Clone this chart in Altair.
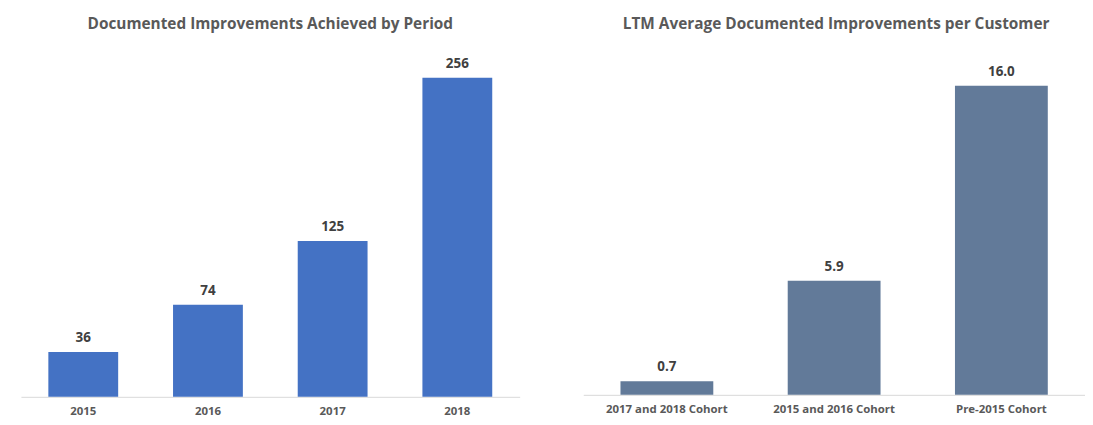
import altair as alt
import pandas as pd

periods = ["2015", "2016", "2017", "2018"]
improvements = [36, 74, 125, 256]

cohorts = ["2017 and 2018 Cohort", "2015 and 2016 Cohort", "Pre-2015 Cohort"]
avg_per_customer = [0.7, 5.9, 16.0]

left_df = pd.DataFrame({"period": periods, "value": improvements})
right_df = pd.DataFrame({"cohort": cohorts, "value": avg_per_customer})

FONT = "Open Sans"
TITLE_COLOR = "#595959"
LABEL_COLOR = "#404040"

def make_panel(df, cat, title, color, ymax, fmt, pad_inner, width, height, dx):
    base = alt.Chart(df).encode(
        x=alt.X(f"{cat}:N", sort=list(df[cat]), title=None,
                scale=alt.Scale(paddingInner=pad_inner, paddingOuter=pad_inner / 2),
                axis=alt.Axis(labelAngle=0, ticks=False, domainColor="#D9D9D9",
                              domainWidth=1, labelFont=FONT, labelFontSize=11.5,
                              labelFontWeight="bold", labelColor=TITLE_COLOR,
                              labelPadding=9, grid=False)),
        y=alt.Y("value:Q", title=None, axis=None,
                scale=alt.Scale(domain=[0, ymax], nice=False, zero=True)),
    )
    bars = base.mark_bar(color=color)
    labels = base.mark_text(dy=-7, baseline="bottom", font=FONT, fontSize=13.5,
                            fontWeight="bold", color=LABEL_COLOR).encode(
        text=alt.Text("value:Q", format=fmt))
    return (bars + labels).properties(
        width=width, height=height,
        title=alt.TitleParams(title, font=FONT, fontSize=15.5, fontWeight="bold",
                              color=TITLE_COLOR, anchor="middle", dx=dx, offset=17),
    )

left = make_panel(left_df, "period", "Documented Improvements Achieved by Period",
                  "#4472C4", 279.1, ".0f", 0.44, 502, 350, 0)
right = make_panel(right_df, "cohort", "LTM Average Documented Improvements per Customer",
                   "#627A99", 17.9, ".1f", 0.445, 505, 348, 2)

chart = alt.hconcat(left, right, spacing=64).properties(
    padding={"left": 13, "top": 7, "right": 0, "bottom": 5},
    background="white",
).configure_view(stroke=None)

chart.save("out.html", embed_options={"renderer": "svg", "actions": False})
